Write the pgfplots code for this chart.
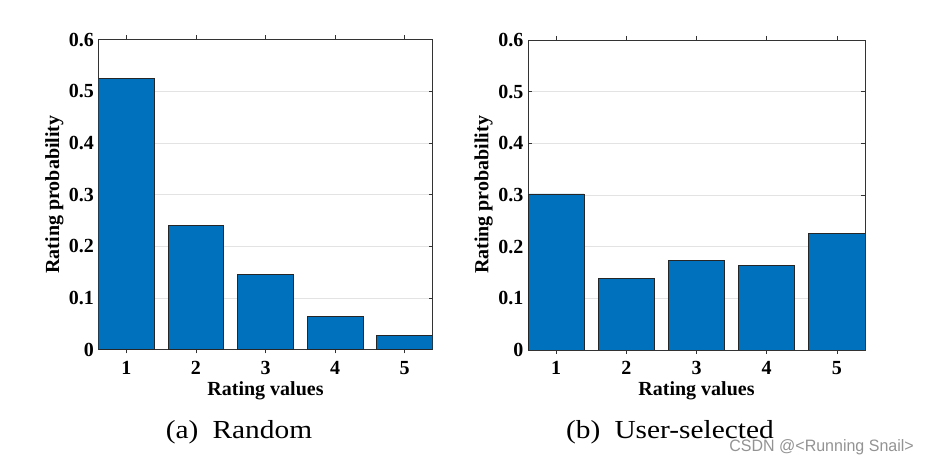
\documentclass[border=0pt]{standalone}
\usepackage{fontspec}
\setmainfont{Liberation Serif}
\newfontfamily\wmfont{Liberation Sans}
\usepackage{pgfplots}
\pgfplotsset{compat=1.18}
\usepackage{pgfplotstable}
\definecolor{matblue}{RGB}{0,114,189}
\pgfplotstableread{
x y
1 0.524
2 0.240
3 0.145
4 0.064
5 0.027
}\randomtab
\pgfplotstableread{
x y
1 0.302
2 0.138
3 0.173
4 0.164
5 0.225
}\usertab
\pgfplotsset{rstyle/.style={
  height=310pt, scale only axis, anchor=south west,
  xmin=0.6, xmax=5.4, ymin=0, ymax=0.6,
  xtick={1,2,3,4,5}, ytick={0,0.1,0.2,0.3,0.4,0.5,0.6},
  tick align=inside, tick pos=both, major tick length=4pt,
  ymajorgrids, grid style={gray!22, line width=0.6pt},
  axis line style={black!80, line width=0.7pt},
  tick style={black!80, line width=0.6pt},
  /pgf/number format/assume math mode=true,
  ticklabel style={font=\fontsize{20}{20}\selectfont\bfseries},
  yticklabel style={/pgf/number format/fixed, /pgf/number format/precision=1, xshift=-1pt},
  xticklabel style={yshift=-4pt},
  label style={font=\fontsize{20}{20}\selectfont\bfseries},
  xlabel={Rating values}, ylabel={Rating probability},
  xlabel style={at={(axis description cs:0.5,0)}, anchor=center, yshift=-41pt},
  ybar, bar width=0.8,
}}
\begin{document}
\begin{tikzpicture}[x=1pt,y=1pt]
\path[use as bounding box] (0,0) rectangle (931,470);
\begin{axis}[rstyle, width=334pt, at={(98.5pt,120.5pt)},
  ylabel style={at={(axis description cs:-0.132,0.5)}, anchor=center}]
\addplot[fill=matblue, draw=black!85, line width=0.7pt] table[x=x,y=y] {\randomtab};
\end{axis}
\begin{axis}[rstyle, width=337pt, at={(528pt,120pt)},
  ylabel style={at={(axis description cs:-0.132,0.5)}, anchor=center}]
\addplot[fill=matblue, draw=black!85, line width=0.7pt] table[x=x,y=y] {\usertab};
\end{axis}
\node[font=\fontsize{26}{26}\selectfont, anchor=center] at (239,38) {\scalebox{1.13}[1]{(a)\hspace{6pt} Random}};
\node[font=\fontsize{26}{26}\selectfont, anchor=center] at (670,38) {\scalebox{1.13}[1]{(b)\hspace{6pt} User-selected}};
\node[font=\wmfont\fontsize{16.5}{16.5}\selectfont, text=gray!85, anchor=base east, inner sep=0pt] at (914,18) {\scalebox{0.97}[1]{CSDN @<Running Snail>}};
\end{tikzpicture}
\end{document}
